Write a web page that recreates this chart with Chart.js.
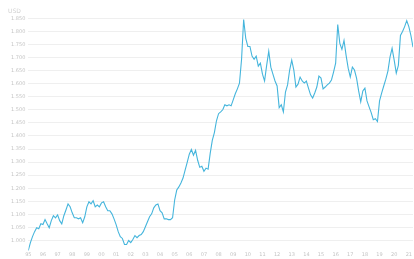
<!DOCTYPE html>
<html>
<head>
<meta charset="utf-8">
<script src="https://cdn.jsdelivr.net/npm/chart.js@4"></script>
<style>
  html, body { margin: 0; padding: 0; background: #fff; }
  #wrap { position: relative; width: 414px; height: 259px; }
  #unit { position: absolute; left: 8px; top: 7px; font: 6px "DejaVu Sans", sans-serif; color: #d0d0d0; }
</style>
</head>
<body>
<div id="wrap">
  <canvas id="rate-chart" width="414" height="259"></canvas>
  <div id="unit">USD</div>
</div>
<script>
const START_YEAR = 1995;
const POINTS_PER_YEAR = 7;

const rates = [
  0.962, 0.992, 1.015, 1.034, 1.049, 1.045, 1.064, 1.061, 1.080, 1.064,
  1.049, 1.076, 1.095, 1.087, 1.098, 1.076, 1.064, 1.095, 1.117, 1.140,
  1.129, 1.106, 1.087, 1.087, 1.083, 1.087, 1.068, 1.091, 1.129, 1.148,
  1.140, 1.152, 1.129, 1.136, 1.129, 1.144, 1.148, 1.129, 1.114, 1.114,
  1.102, 1.083, 1.061, 1.034, 1.015, 1.008, 0.985, 0.985, 1.000, 0.992,
  1.004, 1.019, 1.011, 1.019, 1.023, 1.034, 1.053, 1.072, 1.091, 1.102,
  1.125, 1.136, 1.140, 1.114, 1.106, 1.083, 1.083, 1.080, 1.080, 1.087,
  1.155, 1.193, 1.205, 1.220, 1.239, 1.269, 1.299, 1.330, 1.348, 1.326,
  1.345, 1.307, 1.280, 1.284, 1.265, 1.277, 1.273, 1.333, 1.383, 1.413,
  1.458, 1.485, 1.492, 1.500, 1.519, 1.515, 1.519, 1.515, 1.538, 1.561,
  1.580, 1.602, 1.693, 1.845, 1.773, 1.742, 1.742, 1.705, 1.693, 1.705,
  1.667, 1.678, 1.636, 1.610, 1.670, 1.724, 1.663, 1.636, 1.610, 1.591,
  1.508, 1.519, 1.492, 1.568, 1.595, 1.652, 1.690, 1.652, 1.587, 1.598,
  1.625, 1.610, 1.602, 1.610, 1.583, 1.557, 1.545, 1.564, 1.587, 1.629,
  1.621, 1.580, 1.587, 1.595, 1.602, 1.614, 1.644, 1.678, 1.826, 1.754,
  1.731, 1.765, 1.708, 1.659, 1.625, 1.663, 1.652, 1.621, 1.572, 1.530,
  1.572, 1.583, 1.534, 1.511, 1.489, 1.462, 1.466, 1.455, 1.534, 1.564,
  1.591, 1.617, 1.648, 1.701, 1.735, 1.690, 1.640, 1.670, 1.784, 1.799,
  1.818, 1.841, 1.818, 1.784, 1.739
];

const Y_MIN = 0.96;
const Y_MAX = 1.87;
const Y_STEP = 0.05;

const points = rates.map((v, i) => ({ x: START_YEAR + i / POINTS_PER_YEAR, y: v }));
const lastX = START_YEAR + (rates.length - 1) / POINTS_PER_YEAR;

const ctx = document.getElementById('rate-chart').getContext('2d');
new Chart(ctx, {
    type: 'line',
    data: {
        datasets: [{
            data: points,
            borderColor: '#45b5dc',
            borderWidth: 1.1,
            pointRadius: 0,
            tension: 0,
            fill: false
        }]
    },
    options: {
        responsive: false,
        animation: false,
        layout: { padding: { top: 13, left: 8, right: 1, bottom: 0 } },
        plugins: { legend: { display: false }, tooltip: { enabled: false } },
        scales: {
            x: {
                type: 'linear',
                min: START_YEAR,
                max: lastX,
                grid: { display: false, drawTicks: false },
                border: { display: false },
                ticks: {
                    stepSize: 1,
                    includeBounds: false,
                    autoSkip: false,
                    maxRotation: 0,
                    padding: 1,
                    color: '#c4c4c4',
                    font: { size: 5, family: 'DejaVu Sans' },
                    callback: (v) => String(Math.round(v)).slice(2)
                }
            },
            y: {
                min: Y_MIN,
                max: Y_MAX,
                grid: { color: '#efefef', lineWidth: 1, drawTicks: false },
                border: { display: false },
                ticks: {
                    stepSize: Y_STEP,
                    includeBounds: false,
                    padding: 3,
                    color: '#c4c4c4',
                    font: { size: 5, family: 'DejaVu Sans' },
                    callback: (v) => v.toFixed(3)
                }
            }
        }
    }
});
</script>
</body>
</html>
